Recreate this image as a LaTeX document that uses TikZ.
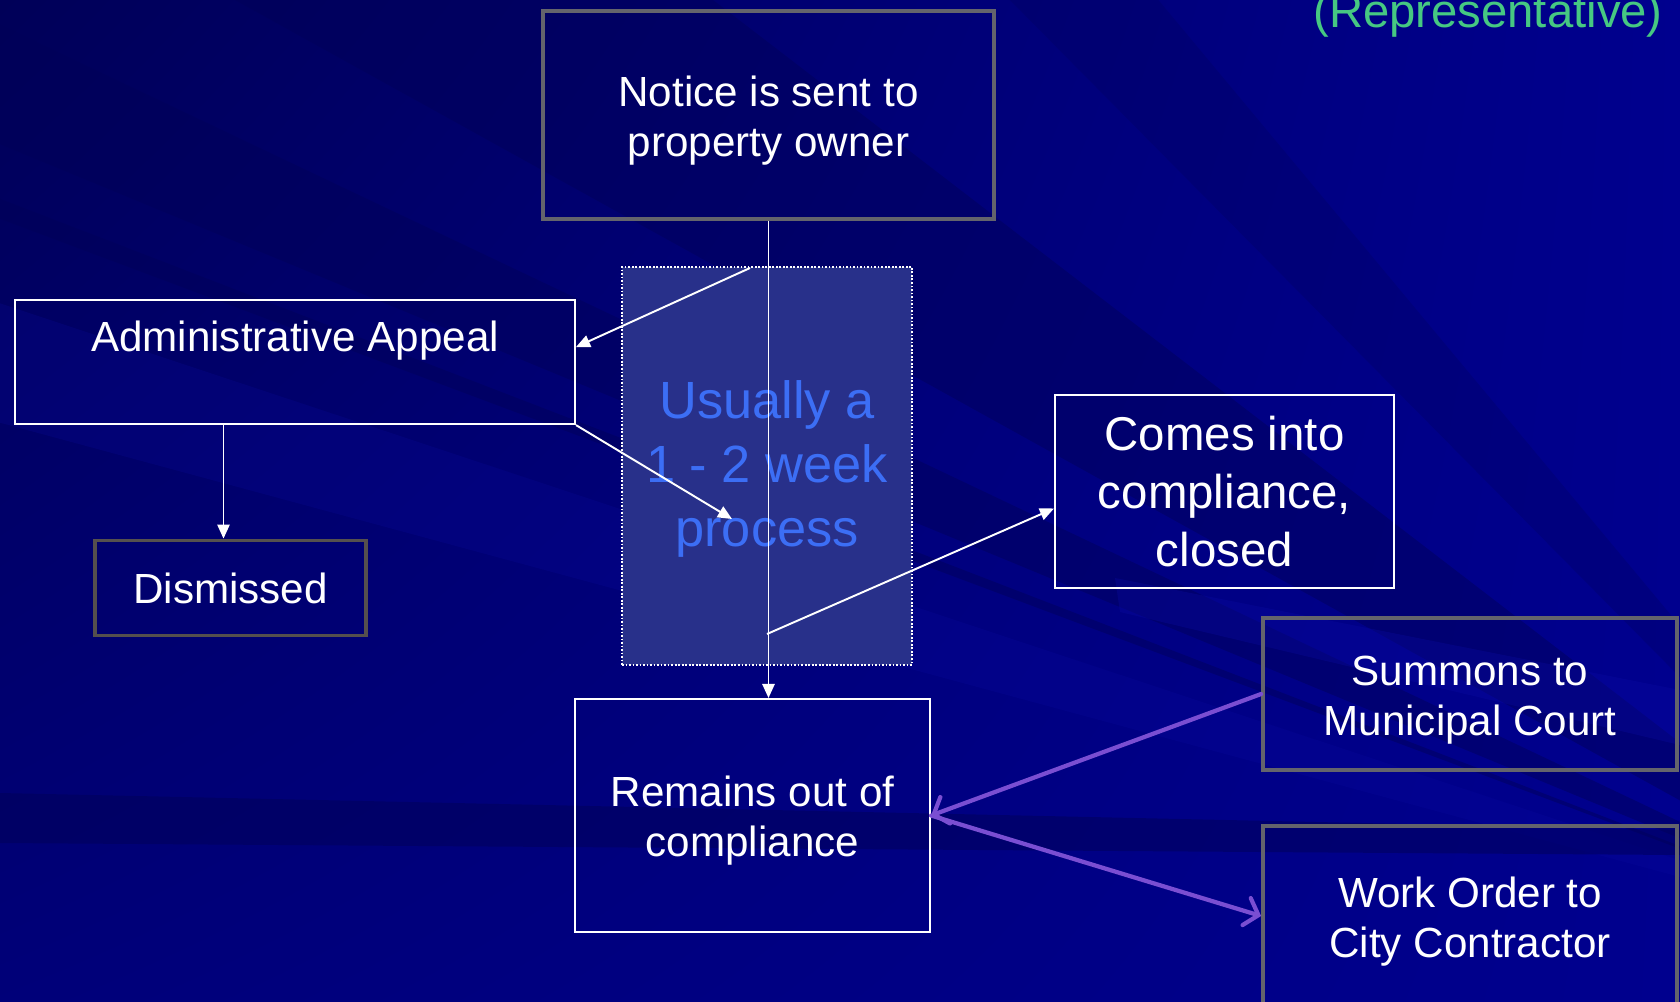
\documentclass[tikz,border=0pt]{standalone}
\usepackage{fontspec}
\setmainfont{Liberation Sans}
\usetikzlibrary{arrows.meta,calc,shadings}

\definecolor{bgbase}{RGB}{0,0,142}
\definecolor{bgdark}{RGB}{0,0,88}
\definecolor{bglight}{RGB}{12,12,165}
\definecolor{boxgray}{RGB}{100,100,108}
\definecolor{dimgray}{RGB}{85,80,78}
\definecolor{procfill}{RGB}{40,48,138}
\definecolor{proctext}{RGB}{60,110,245}
\definecolor{repgreen}{RGB}{70,200,130}
\definecolor{arrowpurple}{RGB}{122,78,210}

\newcommand{\toppad}{\rule{0pt}{23.5pt}}

\tikzset{
  wbox/.style={draw=white, line width=1.2pt, text=white, align=center, inner sep=0pt},
  gbox/.style={draw=boxgray, line width=2.2pt, text=white, align=center, inner sep=0pt},
  boxtext/.style={font=\fontsize{24}{28.6}\selectfont},
  flow/.style={draw=white, line width=1.1pt, -{Triangle[length=8pt,width=7pt]}},
  jump/.style={draw=arrowpurple, line width=2.4pt, line cap=round,
    -{Straight Barb[length=7pt,width=16pt,line cap=round]}}
}

\begin{document}
\begin{tikzpicture}[x=0.02cm, y=-0.02cm]
    \useasboundingbox (0,0) rectangle (1680,1001);
    \clip (0,0) rectangle (1680,1001);

    % background with rays
    \shade[upper left=bgdark, upper right=bgbase, lower left=bgbase!85!black, lower right=bgbase]
        (0,0) rectangle (1680,1001);
    \coordinate (focus) at (1950,950);
    \fill[bgdark, opacity=.45] (focus) -- (-10,20) -- (-10,140) -- cycle;
    \fill[bgdark, opacity=.45] (focus) -- (-10,195) -- (-10,215) -- cycle;
    \fill[bgdark, opacity=.45] (focus) -- (217,-10) -- (700,-10) -- cycle;
    \fill[bgdark, opacity=.25] (focus) -- (1000,-10) -- (1150,-10) -- cycle;
    \fill[bglight, opacity=.2] (focus) -- (-10,300) -- (-10,420) -- cycle;
    \fill[bglight, opacity=.3] (1115,578) -- (1680,690) -- (1680,745) -- (1120,612) -- cycle;
    \fill[bgdark, opacity=.5] (0,793) -- (1680,830) -- (1680,855) -- (0,843) -- cycle;

    % boxes
    \node[gbox, boxtext, minimum width=9.02cm, minimum height=4.16cm] (notice) at (768.5,115) {\toppad Notice is sent to\\property owner};
    \node[wbox, boxtext, minimum width=11.2cm, text height=1.02cm, text depth=1.46cm, anchor=north] (appeal) at (295,299) {Administrative Appeal};
    \node[gbox, draw=dimgray, boxtext, minimum width=5.42cm, minimum height=1.9cm] (dismissed) at (230.5,588) {Dismissed};
    \node[draw=white, densely dotted, line width=1pt, fill=procfill, text=proctext, align=center,
        font=\fontsize{29.8}{36.3}\selectfont, minimum width=5.8cm, minimum height=7.96cm] (usual) at (767,466) {\rule{0pt}{25pt}Usually a\\1 - 2 week\\process};
    \node[wbox, font=\fontsize{27}{33}\selectfont, minimum width=6.78cm, minimum height=3.86cm] (comply) at (1224.5,491.5) {Comes into\\compliance,\\closed};
    \node[wbox, boxtext, minimum width=7.1cm, minimum height=4.66cm] (remains) at (752.5,815.5) {\toppad Remains out of\\compliance};
    \node[gbox, boxtext, minimum width=8.28cm, minimum height=3.04cm] (summons) at (1470,694) {\toppad Summons to\\Municipal Court};
    \node[gbox, boxtext, minimum width=8.28cm, minimum height=3.6cm] (workorder) at (1470,916) {\toppad Work Order to\\City Contractor};
    \node[text=repgreen, font=\fontsize{26.9}{32}\selectfont, anchor=base west, inner sep=0pt] (rep) at (1313,27) {(Representative)};

    % connectors
    \coordinate (forkA) at (750,268);
    \coordinate (tipB) at (732,519);
    \coordinate (forkC) at (767,634);
    \draw[flow] (notice.south) -- (notice.south |- remains.north);
    \draw[flow] (forkA) -- ([yshift=0.3cm]appeal.east);
    \draw[flow] (appeal.south east) -- (tipB);
    \draw[flow] (forkC) -- ([yshift=-0.34cm]comply.west);
    \draw[flow] ([xshift=-0.14cm]appeal.south -| dismissed.north) -- ([xshift=-0.14cm]dismissed.north);
    \draw[jump] (summons.west) -- (remains.east);
    \draw[jump] (remains.east) -- (workorder.west);
\end{tikzpicture}
\end{document}
